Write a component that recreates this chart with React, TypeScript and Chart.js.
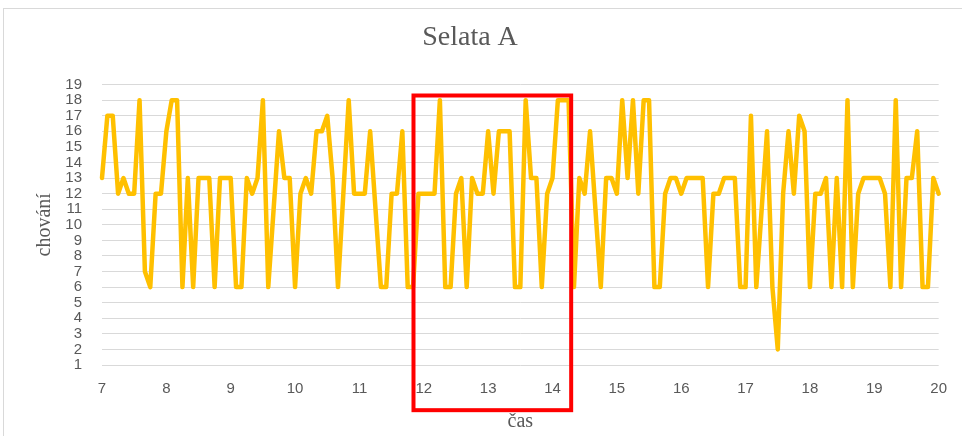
import { useEffect, useRef } from "react";
import { Chart, registerables } from "chart.js";

Chart.register(...registerables);

// Observations every 5 minutes from 7:00 to 20:00
const START_HOUR = 7;
const STEP_MINUTES = 5;

const behaviour: number[] = [
  13, 17, 17, 12, 13, 12, 12, 18, 7, 6,
  12, 12, 16, 18, 18, 6, 13, 6, 13, 13,
  13, 6, 13, 13, 13, 6, 6, 13, 12, 13,
  18, 6, 11, 16, 13, 13, 6, 12, 13, 12,
  16, 16, 17, 13, 6, 12, 18, 12, 12, 12,
  16, 11, 6, 6, 12, 12, 16, 6, 6, 12,
  12, 12, 12, 18, 6, 6, 12, 13, 6, 13,
  12, 12, 16, 12, 16, 16, 16, 6, 6, 18,
  13, 13, 6, 12, 13, 18, 18, 18, 6, 13,
  12, 16, 11, 6, 13, 13, 12, 18, 13, 18,
  12, 18, 18, 6, 6, 12, 13, 13, 12, 13,
  13, 13, 13, 6, 12, 12, 13, 13, 13, 6,
  6, 17, 6, 11, 16, 6, 2, 12, 16, 12,
  17, 16, 6, 12, 12, 13, 6, 13, 6, 18,
  6, 12, 13, 13, 13, 13, 12, 6, 18, 6,
  13, 13, 16, 6, 6, 13, 12,
];

const times: number[] = behaviour.map((_, i) => START_HOUR + (i * STEP_MINUTES) / 60);

const X_MIN = 7;
const X_MAX = 20;
const Y_MIN = 1;
const Y_MAX = 19;

const TITLE = "Selata A";
const X_TITLE = "čas";
const Y_TITLE = "chování";

// highlighted window (data units)
const highlightX = [11.84, 14.29];
const highlightY = [-1.9, 18.3];

const highlightPlugin = {
  id: "highlightBox",
  afterDraw(chart: any) {
    const { ctx, scales } = chart;
    const x0 = scales.x.getPixelForValue(highlightX[0]);
    const x1 = scales.x.getPixelForValue(highlightX[1]);
    const y0 = scales.y.getPixelForValue(highlightY[1]);
    const y1 = scales.y.getPixelForValue(highlightY[0]);
    ctx.save();
    ctx.strokeStyle = "#FF0000";
    ctx.lineWidth = 4;
    ctx.lineJoin = "miter";
    ctx.strokeRect(x0, y0, x1 - x0, y1 - y0);
    ctx.restore();
  },
};

export default function App() {
  const canvasRef = useRef<HTMLCanvasElement | null>(null);

  useEffect(() => {
    document.body.style.margin = "0";
    const canvas = canvasRef.current;
    if (!canvas) return;
    const data = times.map((t, i) => ({ x: t, y: behaviour[i] }));
    const chart = new Chart(canvas, {
      type: "scatter",
      data: {
        datasets: [
          {
            data,
            showLine: true,
            borderColor: "#FFC000",
            backgroundColor: "#FFC000",
            borderWidth: 4.5,
            pointRadius: 0,
            borderJoinStyle: "round",
            borderCapStyle: "round",
            tension: 0,
            clip: false,
          } as any,
        ],
      },
      options: {
        animation: false,
        responsive: false,
        maintainAspectRatio: false,
        layout: { padding: { left: 0, right: 22, top: 0, bottom: 0 } },
        plugins: {
          legend: { display: false },
          tooltip: { enabled: false },
          title: {
            display: true,
            text: TITLE,
            color: "#595959",
            font: { family: "'Liberation Serif', serif", size: 28, weight: "normal" },
            padding: { top: 21, bottom: 30 },
          },
        },
        scales: {
          x: {
            type: "linear",
            min: X_MIN,
            max: X_MAX,
            grid: { display: false, drawTicks: false },
            border: { display: false },
            ticks: {
              stepSize: 1,
              color: "#595959",
              padding: 15,
              font: { family: "'Liberation Sans', sans-serif", size: 15 },
              maxRotation: 0,
            },
            title: {
              display: true,
              text: X_TITLE,
              color: "#595959",
              font: { family: "'Liberation Serif', serif", size: 20 },
              padding: { top: 0, bottom: 2 },
            },
            afterFit(scale: any) {
              scale.height = 71;
            },
          },
          y: {
            type: "linear",
            min: Y_MIN,
            max: Y_MAX,
            grid: { color: "#D9D9D9", lineWidth: 1, drawTicks: false },
            border: { display: false },
            ticks: {
              stepSize: 1,
              color: "#595959",
              padding: 20,
              autoSkip: false,
              font: { family: "'Liberation Sans', sans-serif", size: 15 },
            },
            title: {
              display: true,
              text: Y_TITLE,
              color: "#595959",
              font: { family: "'Liberation Serif', serif", size: 20 },
              padding: { top: 33, bottom: 0 },
            },
            afterFit(scale: any) {
              scale.width = 102;
            },
          },
        },
      },
      plugins: [highlightPlugin],
    });
    return () => chart.destroy();
  }, []);

  return (
    <div
      style={{
        position: "relative",
        width: 962,
        height: 436,
        overflow: "hidden",
        background: "#FFFFFF",
      }}
    >
      <div
        style={{
          position: "absolute",
          left: 3,
          top: 8,
          width: 990,
          height: 460,
          border: "1px solid #D9D9D9",
          boxSizing: "border-box",
        }}
      />
      <canvas
        ref={canvasRef}
        width={962}
        height={436}
        style={{ position: "absolute", left: 0, top: 0, width: 962, height: 436 }}
      />
    </div>
  );
}
